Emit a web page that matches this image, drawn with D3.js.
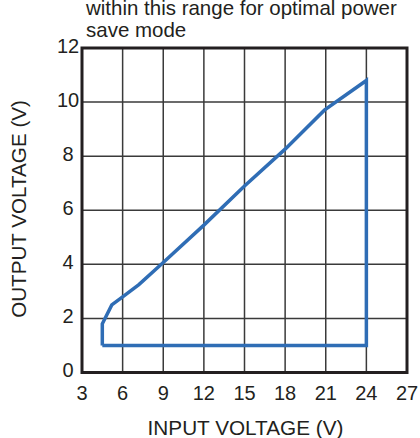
<!DOCTYPE html>
<html>
<head>
<meta charset="utf-8">
<script src="https://cdn.jsdelivr.net/npm/d3@7/dist/d3.min.js"></script>
<style>
  html, body { margin: 0; padding: 0; background: #fff; }
  svg { display: block; font-family: "Liberation Sans", Arial, sans-serif; }
</style>
</head>
<body>
<svg id="chart" width="420" height="438"></svg>
<script>
// Data
const xTicks = [3, 6, 9, 12, 15, 18, 21, 24, 27];
const yTicks = [0, 2, 4, 6, 8, 10, 12];
const inputVoltage  = [4.5, 4.5, 5.2, 6.0, 7.2, 9.0, 12.0, 15.0, 18.0, 20.9, 24.0, 24.0, 4.5];
const outputVoltage = [1.0, 1.8, 2.5, 2.8, 3.25, 4.07, 5.45, 6.9, 8.26, 9.7, 10.8, 1.0, 1.0];
const titleLines = ["within this range for optimal power", "save mode"];
const xLabel = "INPUT VOLTAGE (V)";
const yLabel = "OUTPUT VOLTAGE (V)";

const svg = d3.select("#chart");
const pLeft = 82, pRight = 407, pTop = 48, pBottom = 372.5;

const x = d3.scaleLinear().domain([3, 27]).range([pLeft, pRight]);
const y = d3.scaleLinear().domain([0, 12]).range([pBottom, pTop]);

const textColor = "#231f20";

function fitWidth(sel, target, base) {
  const w = sel.node().getComputedTextLength();
  if (w > 0) sel.attr("font-size", base * target / w);
}

// grid
const g = svg.append("g");
g.selectAll(".vg").data(xTicks.slice(1, -1)).enter().append("line")
  .attr("x1", d => x(d)).attr("x2", d => x(d))
  .attr("y1", pTop).attr("y2", pBottom)
  .attr("stroke", "#3a3a3a").attr("stroke-width", 1.5);
g.selectAll(".hg").data(yTicks.slice(1, -1)).enter().append("line")
  .attr("x1", pLeft).attr("x2", pRight)
  .attr("y1", d => y(d)).attr("y2", d => y(d))
  .attr("stroke", "#3a3a3a").attr("stroke-width", 1.5);

// border
svg.append("rect")
  .attr("x", pLeft).attr("y", pTop)
  .attr("width", pRight - pLeft).attr("height", pBottom - pTop)
  .attr("fill", "none").attr("stroke", "#231f20").attr("stroke-width", 3);

// data line
const pts = inputVoltage.map((v, i) => [v, outputVoltage[i]]);
const line = d3.line().x(d => x(d[0])).y(d => y(d[1]));
svg.append("path")
  .attr("d", line(pts))
  .attr("fill", "none")
  .attr("stroke", "#2f6db5")
  .attr("stroke-width", 3.5)
  .attr("stroke-linejoin", "miter");

// y tick labels
svg.selectAll(".yl").data(yTicks).enter().append("text")
  .attr("x", 68).attr("y", d => y(d) + 4.5)
  .attr("text-anchor", "middle")
  .attr("font-size", 20).attr("fill", textColor)
  .text(d => d);

// x tick labels
svg.selectAll(".xl").data(xTicks).enter().append("text")
  .attr("x", d => x(d)).attr("y", 399.5)
  .attr("text-anchor", "middle")
  .attr("font-size", 20).attr("fill", textColor)
  .text(d => d);

// axis titles
const xt = svg.append("text")
  .attr("x", 245.5).attr("y", 434.5)
  .attr("text-anchor", "middle")
  .attr("font-size", 20).attr("fill", textColor)
  .text(xLabel);
fitWidth(xt, 196, 20);

const yt = svg.append("text")
  .attr("transform", "translate(26,209) rotate(-90)")
  .attr("text-anchor", "middle")
  .attr("font-size", 20).attr("fill", textColor)
  .text(yLabel);
fitWidth(yt, 218, 20);

// title
const tt = svg.selectAll(".tt").data(titleLines).enter().append("text")
  .attr("x", 86).attr("y", (d, i) => 15 + i * 22)
  .attr("font-size", 20).attr("fill", textColor)
  .text(d => d);
const t0 = d3.select(tt.nodes()[0]);
const w0 = t0.node().getComputedTextLength();
if (w0 > 0) tt.attr("font-size", 20 * 311 / w0);
</script>
</body>
</html>
